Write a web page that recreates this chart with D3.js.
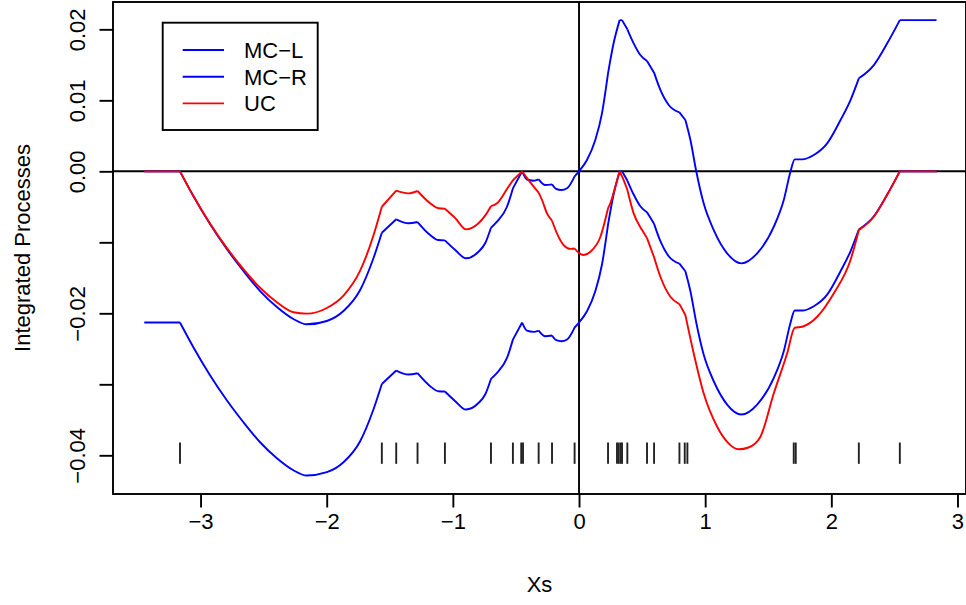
<!DOCTYPE html>
<html>
<head>
<meta charset="utf-8">
<script src="https://cdn.jsdelivr.net/npm/d3@7"></script>
<style>
  body { margin: 0; background: #fff; }
  svg { display: block; font-family: "Liberation Sans", Arial, sans-serif; }
</style>
</head>
<body>
<svg id="chart" width="966" height="605"></svg>
<script>
// shared x grid of the two MC curves
const xMC = [-3.446, -3.163, -3.057, -2.925, -2.792, -2.660, -2.528, -2.395, -2.264, -2.158,
  -1.999, -1.867, -1.735, -1.629, -1.563, -1.449, -1.352, -1.280, -1.180, -1.114,
  -1.063, -0.981, -0.896, -0.799, -0.743, -0.698, -0.650, -0.571, -0.524, -0.451,
  -0.412, -0.360, -0.320, -0.267, -0.214, -0.180, -0.140, -0.095, -0.043, -0.035,
  0.000, 0.063, 0.129, 0.182, 0.230, 0.274, 0.322, 0.341, 0.383, 0.433,
  0.486, 0.539, 0.595, 0.645, 0.711, 0.796, 0.843, 0.883, 0.930, 0.988,
  1.068, 1.174, 1.287, 1.412, 1.544, 1.623, 1.676, 1.710, 1.769, 1.861,
  1.967, 2.073, 2.152, 2.218, 2.337, 2.443, 2.543, 2.834];

const yMCL = [0, 0, -0.00348, -0.00742, -0.01094, -0.01404, -0.01686, -0.01911, -0.02080, -0.02155,
  -0.02108, -0.01968, -0.01672, -0.01221, -0.00865, -0.00676, -0.00732, -0.00714, -0.00897, -0.00968,
  -0.00972, -0.01108, -0.01225, -0.01137, -0.01010, -0.00794, -0.00710, -0.00499, -0.00240, 0,
  -0.00115, -0.00132, -0.00113, -0.00193, -0.00183, -0.00249, -0.00263, -0.00239, -0.00099, -0.00070,
  0, 0.00159, 0.00441, 0.00817, 0.01380, 0.01803, 0.0213, 0.0213, 0.0200, 0.01803,
  0.01638, 0.01554, 0.01390, 0.01146, 0.00934, 0.00830, 0.00723, 0.00441, -0.00006, -0.00451,
  -0.00827, -0.01155, -0.01296, -0.01155, -0.00780, -0.00404, -0.00006, 0.00169, 0.00169, 0.00230,
  0.00394, 0.00723, 0.01004, 0.01310, 0.01497, 0.01803, 0.0213, 0.0213];

const yMCR = [-0.0213, -0.0213, -0.02478, -0.02872, -0.03224, -0.03534, -0.03816, -0.04041, -0.04210, -0.04285,
  -0.04238, -0.04098, -0.03802, -0.03351, -0.02995, -0.02806, -0.02862, -0.02844, -0.03027, -0.03098,
  -0.03102, -0.03238, -0.03355, -0.03267, -0.03140, -0.02924, -0.02840, -0.02629, -0.02370, -0.02130,
  -0.02245, -0.02262, -0.02243, -0.02323, -0.02313, -0.02379, -0.02393, -0.02369, -0.02229, -0.02200,
  -0.02130, -0.01971, -0.01689, -0.01313, -0.00750, -0.00327, 0, 0, -0.0013, -0.00327,
  -0.00492, -0.00576, -0.00740, -0.00984, -0.01196, -0.01300, -0.01407, -0.01689, -0.02136, -0.02581,
  -0.02957, -0.03285, -0.03426, -0.03285, -0.02910, -0.02534, -0.02136, -0.01961, -0.01961, -0.01900,
  -0.01736, -0.01407, -0.01126, -0.00820, -0.00633, -0.00327, 0, 0];

const xUC = [-3.446, -3.163, -3.057, -2.925, -2.792, -2.660, -2.528, -2.395, -2.264, -2.158,
  -1.999, -1.867, -1.735, -1.629, -1.563, -1.449, -1.352, -1.280, -1.180, -1.114,
  -1.063, -0.981, -0.896, -0.799, -0.743, -0.698, -0.650, -0.571, -0.524, -0.451,
  -0.400, -0.320, -0.293, -0.254, -0.214, -0.175, -0.122, -0.069, -0.035, -0.003,
  0.036, 0.090, 0.169, 0.230, 0.248, 0.288, 0.322, 0.354, 0.383, 0.433,
  0.500, 0.539, 0.595, 0.645, 0.724, 0.796, 0.843, 0.909, 0.988, 1.095,
  1.176, 1.266, 1.343, 1.438, 1.544, 1.650, 1.710, 1.769, 1.888, 2.020,
  2.152, 2.218, 2.337, 2.443, 2.543, 2.834];

const yUC = [0, 0, -0.00348, -0.00735, -0.01078, -0.01378, -0.01640, -0.01845, -0.01985, -0.02005,
  -0.01925, -0.01750, -0.01400, -0.00900, -0.00499, -0.00273, -0.00310, -0.00277, -0.00450, -0.00520,
  -0.00527, -0.00660, -0.00817, -0.00735, -0.00620, -0.00490, -0.00451, -0.00250, -0.00125, 0,
  -0.00123, -0.00300, -0.00404, -0.00592, -0.00696, -0.00873, -0.01038, -0.01092, -0.01087, -0.01146,
  -0.01179, -0.01132, -0.00925, -0.00520, -0.00451, -0.00217, 0, -0.00123, -0.00260, -0.00592,
  -0.00827, -0.00940, -0.01210, -0.01485, -0.01766, -0.01870, -0.02024, -0.02563, -0.03127, -0.03597,
  -0.03813, -0.03915, -0.03890, -0.03738, -0.03127, -0.02563, -0.02203, -0.02189, -0.02048, -0.01718,
  -0.01249, -0.00830, -0.00640, -0.00330, 0, 0];

// observations shown as a rug (the curves bend at these points)
const rugX = [-3.163, -1.563, -1.449, -1.280, -1.063, -0.698, -0.524, -0.458, -0.444, -0.320,
  -0.214, -0.035, 0.230, 0.301, 0.315, 0.330, 0.341, 0.383, 0.539, 0.595,
  0.796, 0.838, 0.859, 1.702, 1.718, 2.218, 2.543];

const xTicks = [-3, -2, -1, 0, 1, 2, 3];
const yTicks = [0.02, 0.01, 0, -0.01, -0.02, -0.03, -0.04];
const yLabels = {"0.02": "0.02", "0.01": "0.01", "0": "0.00", "-0.02": "\u22120.02", "-0.04": "\u22120.04"};

const legendNames = ["MC\u2212L", "MC\u2212R", "UC"];
const legendColors = ["#0000ff", "#0000ff", "#ff0000"];

const svg = d3.select("#chart");
const pL = 113, pR = 966, pT = 2, pB = 494;

const x = d3.scaleLinear().domain([-3.694, 3.0675]).range([pL, pR]);
const y = d3.scaleLinear().domain([-0.04545, 0.02385]).range([pB, pT]);

const plot = svg.append("g");

// reference lines at 0
plot.append("line").attr("x1", pL).attr("x2", pR).attr("y1", y(0)).attr("y2", y(0))
  .attr("stroke", "#000").attr("stroke-width", 1.9);
plot.append("line").attr("x1", x(0)).attr("x2", x(0)).attr("y1", pT).attr("y2", pB)
  .attr("stroke", "#000").attr("stroke-width", 1.9);

// smooth between observations, keep the corners at them
const smooth = d3.line().x(d => x(d[0])).y(d => y(d[1])).curve(d3.curveMonotoneX);
const isKnot = v => rugX.some(r => Math.abs(r - v) < 0.008);

function curvePath(xs, ys) {
  const pts = d3.zip(xs, ys);
  let out = "", piece = [pts[0]];
  for (let i = 1; i < pts.length; i++) {
    piece.push(pts[i]);
    if (isKnot(pts[i][0]) || i === pts.length - 1) {
      out += smooth(piece);
      piece = [pts[i]];
    }
  }
  return out;
}

const series = [
  {xs: xMC, ys: yMCL, color: "#0000ff"},
  {xs: xMC, ys: yMCR, color: "#0000ff"},
  {xs: xUC, ys: yUC, color: "#ff0000"}
];

plot.selectAll("path.curve")
  .data(series)
  .enter()
  .append("path")
  .attr("class", "curve")
  .attr("d", d => curvePath(d.xs, d.ys))
  .attr("fill", "none")
  .attr("stroke", d => d.color)
  .attr("stroke-width", 1.9)
  .attr("stroke-linejoin", "round");

// rug ticks
plot.selectAll("line.rug")
  .data(rugX)
  .enter()
  .append("line")
  .attr("class", "rug")
  .attr("x1", d => x(d)).attr("x2", d => x(d))
  .attr("y1", y(-0.0382)).attr("y2", y(-0.0412))
  .attr("stroke", "#222").attr("stroke-width", 1.9);

// box
svg.append("rect").attr("x", pL).attr("y", pT).attr("width", pR - pL).attr("height", pB - pT)
  .attr("fill", "none").attr("stroke", "#000").attr("stroke-width", 1.9);

// x axis
const xAxis = svg.append("g").attr("transform", `translate(0,${pB})`)
  .call(d3.axisBottom(x).tickValues(xTicks).tickSize(13.5).tickPadding(0)
    .tickFormat(d3.format("d")));
xAxis.select(".domain").remove();
xAxis.selectAll(".tick line").attr("stroke", "#000").attr("stroke-width", 1.9);
xAxis.selectAll(".tick text").attr("y", 35).attr("dy", null)
  .attr("font-size", 22).attr("fill", "#000").attr("font-family", "Liberation Sans, Arial, sans-serif");

// y axis
const yAxis = svg.append("g").attr("transform", `translate(${pL},0)`)
  .call(d3.axisLeft(y).tickValues(yTicks).tickSize(13.5).tickFormat(d => yLabels[String(d)] || ""));
yAxis.select(".domain").remove();
yAxis.selectAll(".tick line").attr("stroke", "#000").attr("stroke-width", 1.9);
yAxis.selectAll(".tick text")
  .attr("x", null).attr("dy", null)
  .attr("transform", "translate(-28,0) rotate(-90)")
  .attr("text-anchor", "middle")
  .attr("font-size", 22).attr("fill", "#000").attr("font-family", "Liberation Sans, Arial, sans-serif");

// axis titles
svg.append("text").attr("x", (pL + pR) / 2).attr("y", 592)
  .attr("text-anchor", "middle").attr("font-size", 22).text("Xs");
svg.append("text").attr("transform", `translate(30,${(pT + pB) / 2}) rotate(-90)`)
  .attr("text-anchor", "middle").attr("font-size", 22).text("Integrated Processes");

// legend
const lg = svg.append("g");
lg.append("rect").attr("x", 162.7).attr("y", 22.7).attr("width", 155).attr("height", 107.3)
  .attr("fill", "#fff").attr("stroke", "#000").attr("stroke-width", 1.9);
legendNames.forEach((name, i) => {
  const ly = 50 + i * 26.7;
  lg.append("line").attr("x1", 182.7).attr("x2", 224).attr("y1", ly).attr("y2", ly)
    .attr("stroke", legendColors[i]).attr("stroke-width", 1.9);
  lg.append("text").attr("x", 244).attr("y", ly + 8).attr("font-size", 22).text(name);
});
</script>
</body>
</html>
